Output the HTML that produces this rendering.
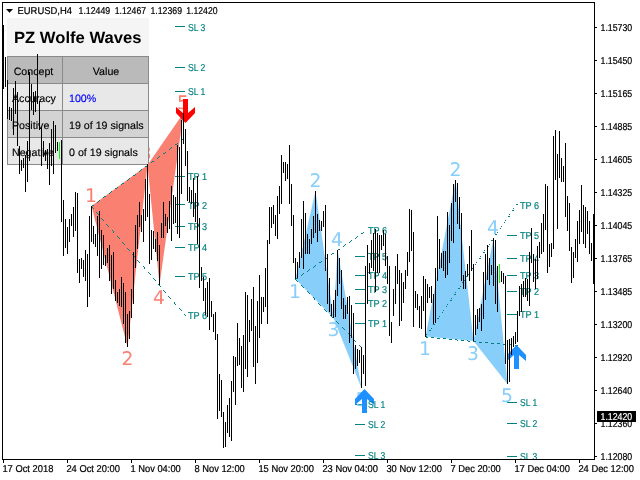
<!DOCTYPE html>
<html><head><meta charset="utf-8"><title>EURUSD,H4 - PZ Wolfe Waves</title>
<style>html,body{margin:0;padding:0;background:#fff;}body{width:640px;height:480px;overflow:hidden;}svg{display:block;will-change:transform;}text{font-family:'Liberation Sans', Arial, sans-serif;text-rendering:geometricPrecision;}.s{font-size:10px;fill:#000;stroke:#000;stroke-width:.22px;}.t{font-size:10px;fill:#008080;stroke:#008080;stroke-width:.18px;}.tb{font-size:10.67px;fill:#000;stroke:#000;stroke-width:.15px;}.wr{font-family:"DejaVu Sans",sans-serif;font-size:18.8px;fill:#fa8072;text-anchor:middle;}.wb{font-family:"DejaVu Sans",sans-serif;font-size:18.8px;fill:#87cefa;text-anchor:middle;}</style></head><body>
<svg width="640" height="480" viewBox="0 0 640 480">
<defs><clipPath id="c"><rect x="3" y="3" width="591" height="456"/></clipPath></defs>
<rect x="0" y="0" width="640" height="480" fill="#fff"/>
<g clip-path="url(#c)">
<text class="wr" x="145.8" y="160">3</text>
<g shape-rendering="crispEdges">
<rect x="7" y="18" width="142" height="147" fill="#f5f5f5"/>
<rect x="7" y="56" width="56" height="28" fill="#8a8a8a"/>
<rect x="8" y="57" width="54" height="26" fill="#bababa"/>
<rect x="62" y="56" width="87" height="28" fill="#8a8a8a"/>
<rect x="63" y="57" width="85" height="26" fill="#bababa"/>
<rect x="7" y="83" width="56" height="28" fill="#8a8a8a"/>
<rect x="8" y="84" width="54" height="26" fill="#e8e8e8"/>
<rect x="62" y="83" width="87" height="28" fill="#8a8a8a"/>
<rect x="63" y="84" width="85" height="26" fill="#e8e8e8"/>
<rect x="7" y="110" width="56" height="28" fill="#8a8a8a"/>
<rect x="8" y="111" width="54" height="26" fill="#d3d3d3"/>
<rect x="62" y="110" width="87" height="28" fill="#8a8a8a"/>
<rect x="63" y="111" width="85" height="26" fill="#d3d3d3"/>
<rect x="7" y="137" width="56" height="28" fill="#8a8a8a"/>
<rect x="8" y="138" width="54" height="26" fill="#e8e8e8"/>
<rect x="62" y="137" width="87" height="28" fill="#8a8a8a"/>
<rect x="63" y="138" width="85" height="26" fill="#e8e8e8"/>
</g>
<text x="14" y="42.5" textLength="127.5" lengthAdjust="spacingAndGlyphs" style="font-size:16.2px;font-weight:bold;fill:#000">PZ Wolfe Waves</text>
<text class="tb" x="33.5" y="75" text-anchor="middle">Concept</text>
<text class="tb" x="106" y="75" text-anchor="middle">Value</text>
<text class="tb" x="12" y="102.2">Accuracy</text>
<text class="tb" x="69" y="102.2" style="fill:#0000ff;stroke:#0000ff">100%</text>
<text class="tb" x="12" y="129">Positive</text>
<text class="tb" x="69" y="129">19 of 19 signals</text>
<text class="tb" x="12" y="156">Negative</text>
<text class="tb" x="69" y="156">0 of 19 signals</text>
<polygon points="91.5,206 127.5,347 147.5,165" fill="#fa8072"/>
<polygon points="147.5,165 159.5,285 183.5,113" fill="#fa8072"/>
<polygon points="295.5,279 315.5,191 333.5,318" fill="#87cefa"/>
<polygon points="333.5,318 337.5,250 361.5,388" fill="#87cefa"/>
<polygon points="425.5,336.5 455.5,180 473.5,341" fill="#87cefa"/>
<polygon points="473.5,341 493.5,238 507.5,384" fill="#87cefa"/>
<path d="M91 206h1v1h-1zM92 205h1v1h-1zM93 205h1v1h-1zM97 202h1v1h-1zM98 201h1v1h-1zM99 200h1v1h-1zM103 197h1v1h-1zM104 196h1v1h-1zM105 196h1v1h-1zM109 193h1v1h-1zM110 192h1v1h-1zM111 191h1v1h-1zM115 188h1v1h-1zM116 188h1v1h-1zM117 187h1v1h-1zM121 184h1v1h-1zM122 183h1v1h-1zM123 183h1v1h-1zM127 180h1v1h-1zM128 179h1v1h-1zM129 178h1v1h-1zM133 175h1v1h-1zM134 175h1v1h-1zM135 174h1v1h-1zM139 171h1v1h-1zM140 170h1v1h-1zM141 169h1v1h-1zM145 166h1v1h-1zM146 166h1v1h-1zM147 165h1v1h-1zM151 162h1v1h-1zM152 161h1v1h-1zM153 161h1v1h-1zM157 158h1v1h-1zM158 157h1v1h-1zM159 156h1v1h-1zM163 153h1v1h-1zM164 153h1v1h-1zM165 152h1v1h-1zM169 149h1v1h-1zM170 148h1v1h-1zM171 147h1v1h-1zM175 144h1v1h-1zM176 144h1v1h-1zM177 143h1v1h-1zM181 140h1v1h-1zM182 139h1v1h-1zM183 139h1v1h-1z" fill="#008080" shape-rendering="crispEdges"/>
<path d="M91 206h1v1h-1zM92 207h1v1h-1zM93 208h1v1h-1zM96 212h1v1h-1zM97 213h1v1h-1zM98 214h1v1h-1zM101 218h1v1h-1zM102 219h1v1h-1zM103 220h1v1h-1zM106 224h1v1h-1zM107 225h1v1h-1zM108 226h1v1h-1zM112 230h1v1h-1zM113 231h1v1h-1zM113 232h1v1h-1zM117 236h1v1h-1zM118 237h1v1h-1zM119 238h1v1h-1zM122 242h1v1h-1zM123 243h1v1h-1zM124 244h1v1h-1zM127 248h1v1h-1zM128 249h1v1h-1zM129 250h1v1h-1zM132 254h1v1h-1zM133 255h1v1h-1zM134 256h1v1h-1zM137 260h1v1h-1zM138 261h1v1h-1zM139 262h1v1h-1zM143 266h1v1h-1zM144 267h1v1h-1zM144 268h1v1h-1zM148 272h1v1h-1zM149 273h1v1h-1zM150 274h1v1h-1zM153 278h1v1h-1zM154 279h1v1h-1zM155 280h1v1h-1zM158 284h1v1h-1zM159 285h1v1h-1zM160 286h1v1h-1zM163 290h1v1h-1zM164 291h1v1h-1zM165 292h1v1h-1zM168 296h1v1h-1zM169 297h1v1h-1zM170 298h1v1h-1zM174 302h1v1h-1zM174 303h1v1h-1zM175 304h1v1h-1zM179 308h1v1h-1zM180 309h1v1h-1zM181 310h1v1h-1zM184 314h1v1h-1zM185 315h1v1h-1z" fill="#008080" shape-rendering="crispEdges"/>
<path d="M295 279h1v1h-1zM296 280h1v1h-1zM297 281h1v1h-1zM301 285h1v1h-1zM302 286h1v1h-1zM303 287h1v1h-1zM307 291h1v1h-1zM308 292h1v1h-1zM309 293h1v1h-1zM313 297h1v1h-1zM314 298h1v1h-1zM314 299h1v1h-1zM318 303h1v1h-1zM319 304h1v1h-1zM320 305h1v1h-1zM324 309h1v1h-1zM325 310h1v1h-1zM326 311h1v1h-1zM330 315h1v1h-1zM331 316h1v1h-1zM332 317h1v1h-1zM336 321h1v1h-1zM337 322h1v1h-1zM338 323h1v1h-1zM342 327h1v1h-1zM343 328h1v1h-1zM344 329h1v1h-1zM348 333h1v1h-1zM349 334h1v1h-1zM350 335h1v1h-1zM353 339h1v1h-1zM354 340h1v1h-1zM355 341h1v1h-1zM359 345h1v1h-1zM360 346h1v1h-1zM361 347h1v1h-1zM365 351h1v1h-1z" fill="#008080" shape-rendering="crispEdges"/>
<path d="M295 279h1v1h-1zM296 278h1v1h-1zM297 278h1v1h-1zM301 275h1v1h-1zM302 274h1v1h-1zM303 273h1v1h-1zM307 271h1v1h-1zM308 270h1v1h-1zM309 269h1v1h-1zM313 267h1v1h-1zM314 266h1v1h-1zM315 265h1v1h-1zM319 262h1v1h-1zM320 262h1v1h-1zM321 261h1v1h-1zM325 258h1v1h-1zM326 258h1v1h-1zM327 257h1v1h-1zM331 254h1v1h-1zM332 253h1v1h-1zM333 253h1v1h-1zM337 250h1v1h-1zM338 249h1v1h-1zM339 249h1v1h-1zM343 246h1v1h-1zM344 245h1v1h-1zM345 244h1v1h-1zM349 242h1v1h-1zM350 241h1v1h-1zM351 240h1v1h-1zM355 238h1v1h-1zM356 237h1v1h-1zM357 236h1v1h-1zM361 233h1v1h-1zM362 233h1v1h-1zM363 232h1v1h-1z" fill="#008080" shape-rendering="crispEdges"/>
<path d="M425 336h1v1h-1zM426 337h1v1h-1zM427 337h1v1h-1zM431 337h1v1h-1zM432 337h1v1h-1zM433 337h1v1h-1zM437 338h1v1h-1zM438 338h1v1h-1zM439 338h1v1h-1zM443 338h1v1h-1zM444 338h1v1h-1zM445 338h1v1h-1zM449 339h1v1h-1zM450 339h1v1h-1zM451 339h1v1h-1zM455 339h1v1h-1zM456 339h1v1h-1zM457 340h1v1h-1zM461 340h1v1h-1zM462 340h1v1h-1zM463 340h1v1h-1zM467 340h1v1h-1zM468 341h1v1h-1zM469 341h1v1h-1zM473 341h1v1h-1zM474 341h1v1h-1zM475 341h1v1h-1zM479 342h1v1h-1zM480 342h1v1h-1zM481 342h1v1h-1zM485 342h1v1h-1zM486 342h1v1h-1zM487 342h1v1h-1zM491 343h1v1h-1zM492 343h1v1h-1zM493 343h1v1h-1zM497 343h1v1h-1zM498 343h1v1h-1zM499 343h1v1h-1zM503 344h1v1h-1zM504 344h1v1h-1zM505 344h1v1h-1zM509 344h1v1h-1zM510 344h1v1h-1zM511 345h1v1h-1zM515 345h1v1h-1zM516 345h1v1h-1zM517 345h1v1h-1z" fill="#008080" shape-rendering="crispEdges"/>
<path d="M425 336h1v1h-1zM426 336h1v1h-1zM426 334h1v1h-1zM429 330h1v1h-1zM430 330h1v1h-1zM431 328h1v1h-1zM433 324h1v1h-1zM434 324h1v1h-1zM435 322h1v1h-1zM437 318h1v1h-1zM438 318h1v1h-1zM439 316h1v1h-1zM442 312h1v1h-1zM442 312h1v1h-1zM443 310h1v1h-1zM446 306h1v1h-1zM446 306h1v1h-1zM447 304h1v1h-1zM450 300h1v1h-1zM451 300h1v1h-1zM451 298h1v1h-1zM454 294h1v1h-1zM455 294h1v1h-1zM455 292h1v1h-1zM458 288h1v1h-1zM459 288h1v1h-1zM460 286h1v1h-1zM462 282h1v1h-1zM463 282h1v1h-1zM464 280h1v1h-1zM466 276h1v1h-1zM467 276h1v1h-1zM468 274h1v1h-1zM471 270h1v1h-1zM471 270h1v1h-1zM472 268h1v1h-1zM475 264h1v1h-1zM475 264h1v1h-1zM476 262h1v1h-1zM479 258h1v1h-1zM480 258h1v1h-1zM480 256h1v1h-1zM483 252h1v1h-1zM484 252h1v1h-1zM484 250h1v1h-1zM487 246h1v1h-1zM488 246h1v1h-1zM489 244h1v1h-1zM491 240h1v1h-1zM492 240h1v1h-1zM493 238h1v1h-1zM495 234h1v1h-1zM496 234h1v1h-1zM497 232h1v1h-1zM500 228h1v1h-1zM500 228h1v1h-1zM501 226h1v1h-1zM504 222h1v1h-1zM504 222h1v1h-1zM505 220h1v1h-1zM508 216h1v1h-1zM509 216h1v1h-1zM509 214h1v1h-1zM512 210h1v1h-1zM513 210h1v1h-1zM513 208h1v1h-1zM516 204h1v1h-1zM517 204h1v1h-1z" fill="#008080" shape-rendering="crispEdges"/>
<rect x="175" y="26" width="10" height="1" fill="#008080" shape-rendering="crispEdges"/>
<rect x="175" y="67" width="10" height="1" fill="#008080" shape-rendering="crispEdges"/>
<rect x="175" y="91" width="10" height="1" fill="#008080" shape-rendering="crispEdges"/>
<rect x="175" y="176" width="10" height="1" fill="#008080" shape-rendering="crispEdges"/>
<rect x="175" y="204" width="10" height="1" fill="#008080" shape-rendering="crispEdges"/>
<rect x="175" y="226" width="10" height="1" fill="#008080" shape-rendering="crispEdges"/>
<rect x="175" y="247" width="10" height="1" fill="#008080" shape-rendering="crispEdges"/>
<rect x="175" y="276" width="10" height="1" fill="#008080" shape-rendering="crispEdges"/>
<rect x="355" y="256" width="10" height="1" fill="#008080" shape-rendering="crispEdges"/>
<rect x="355" y="275" width="10" height="1" fill="#008080" shape-rendering="crispEdges"/>
<rect x="355" y="289" width="10" height="1" fill="#008080" shape-rendering="crispEdges"/>
<rect x="355" y="303" width="10" height="1" fill="#008080" shape-rendering="crispEdges"/>
<rect x="355" y="323" width="10" height="1" fill="#008080" shape-rendering="crispEdges"/>
<rect x="355" y="404" width="10" height="1" fill="#008080" shape-rendering="crispEdges"/>
<rect x="355" y="424" width="10" height="1" fill="#008080" shape-rendering="crispEdges"/>
<rect x="355" y="455" width="10" height="1" fill="#008080" shape-rendering="crispEdges"/>
<rect x="507" y="235" width="10" height="1" fill="#008080" shape-rendering="crispEdges"/>
<rect x="507" y="258" width="10" height="1" fill="#008080" shape-rendering="crispEdges"/>
<rect x="507" y="275" width="10" height="1" fill="#008080" shape-rendering="crispEdges"/>
<rect x="507" y="291" width="10" height="1" fill="#008080" shape-rendering="crispEdges"/>
<rect x="507" y="314" width="10" height="1" fill="#008080" shape-rendering="crispEdges"/>
<rect x="507" y="402" width="10" height="1" fill="#008080" shape-rendering="crispEdges"/>
<rect x="507" y="423" width="10" height="1" fill="#008080" shape-rendering="crispEdges"/>
<rect x="507" y="456" width="10" height="1" fill="#008080" shape-rendering="crispEdges"/>
<text class="wr" x="91" y="201.5">1</text>
<text class="wr" x="127.5" y="365">2</text>
<text class="wr" x="159" y="304">4</text>
<text class="wr" x="183" y="108.5">5</text>
<text class="wb" x="295" y="297.5">1</text>
<text class="wb" x="315.4" y="187">2</text>
<text class="wb" x="333.4" y="335.75">3</text>
<text class="wb" x="337" y="245.5">4</text>
<text class="wb" x="361.5" y="406">5</text>
<text class="wb" x="425" y="354.75">1</text>
<text class="wb" x="455.5" y="175.75">2</text>
<text class="wb" x="473" y="360.2">3</text>
<text class="wb" x="493" y="233.5">4</text>
<text class="wb" x="507" y="401.5">5</text>
<polygon points="183,99 188,99 188,113 195,107 195,113 185.5,123 176,113 176,107 183,113" fill="#ff0000"/>
<polygon points="364.5,389 374,399 374,405 367,399 367,413 362,413 362,399 355,405 355,399" fill="#1e90ff"/>
<polygon points="516.5,345 526,355 526,361 519,355 519,369 514,369 514,355 507,361 507,355" fill="#1e90ff"/>
<text class="t" x="188" y="30.6" textLength="17.3" lengthAdjust="spacingAndGlyphs">SL 3</text>
<text class="t" x="188" y="71.1" textLength="17.3" lengthAdjust="spacingAndGlyphs">SL 2</text>
<text class="t" x="188" y="95.1" textLength="17.3" lengthAdjust="spacingAndGlyphs">SL 1</text>
<text class="t" x="188" y="179.6" textLength="19" lengthAdjust="spacingAndGlyphs">TP 1</text>
<text class="t" x="188" y="208.6" textLength="19" lengthAdjust="spacingAndGlyphs">TP 2</text>
<text class="t" x="188" y="230.1" textLength="19" lengthAdjust="spacingAndGlyphs">TP 3</text>
<text class="t" x="188" y="251.1" textLength="19" lengthAdjust="spacingAndGlyphs">TP 4</text>
<text class="t" x="188" y="279.6" textLength="19" lengthAdjust="spacingAndGlyphs">TP 5</text>
<text class="t" x="188" y="318.6" textLength="19" lengthAdjust="spacingAndGlyphs">TP 6</text>
<text class="t" x="368" y="234.1" textLength="19" lengthAdjust="spacingAndGlyphs">TP 6</text>
<text class="t" x="368" y="260.1" textLength="19" lengthAdjust="spacingAndGlyphs">TP 5</text>
<text class="t" x="368" y="279.1" textLength="19" lengthAdjust="spacingAndGlyphs">TP 4</text>
<text class="t" x="368" y="293.1" textLength="19" lengthAdjust="spacingAndGlyphs">TP 3</text>
<text class="t" x="368" y="307.35" textLength="19" lengthAdjust="spacingAndGlyphs">TP 2</text>
<text class="t" x="368" y="327.1" textLength="19" lengthAdjust="spacingAndGlyphs">TP 1</text>
<text class="t" x="368" y="408.1" textLength="17.3" lengthAdjust="spacingAndGlyphs">SL 1</text>
<text class="t" x="368" y="428" textLength="17.3" lengthAdjust="spacingAndGlyphs">SL 2</text>
<text class="t" x="368" y="459.2" textLength="17.3" lengthAdjust="spacingAndGlyphs">SL 3</text>
<text class="t" x="520" y="208.6" textLength="19" lengthAdjust="spacingAndGlyphs">TP 6</text>
<text class="t" x="520" y="239.2" textLength="19" lengthAdjust="spacingAndGlyphs">TP 5</text>
<text class="t" x="520" y="262.1" textLength="19" lengthAdjust="spacingAndGlyphs">TP 4</text>
<text class="t" x="520" y="279.2" textLength="19" lengthAdjust="spacingAndGlyphs">TP 3</text>
<text class="t" x="520" y="295.1" textLength="19" lengthAdjust="spacingAndGlyphs">TP 2</text>
<text class="t" x="520" y="317.9" textLength="19" lengthAdjust="spacingAndGlyphs">TP 1</text>
<text class="t" x="520" y="406.1" textLength="17.3" lengthAdjust="spacingAndGlyphs">SL 1</text>
<text class="t" x="520" y="427" textLength="17.3" lengthAdjust="spacingAndGlyphs">SL 2</text>
<text class="t" x="520" y="460.1" textLength="17.3" lengthAdjust="spacingAndGlyphs">SL 3</text>
<g shape-rendering="crispEdges">
<rect x="3" y="25" width="1" height="64" fill="#000"/>
<rect x="5" y="57" width="1" height="30" fill="#000"/>
<rect x="7" y="80" width="1" height="39" fill="#000"/>
<rect x="9" y="107" width="1" height="13" fill="#000"/>
<rect x="11" y="108" width="1" height="13" fill="#000"/>
<rect x="13" y="88" width="1" height="47" fill="#000"/>
<rect x="15" y="81" width="1" height="33" fill="#000"/>
<rect x="17" y="92" width="1" height="54" fill="#000"/>
<rect x="19" y="146" width="1" height="28" fill="#000"/>
<rect x="21" y="160" width="1" height="11" fill="#000"/>
<rect x="23" y="158" width="1" height="10" fill="#000"/>
<rect x="25" y="155" width="1" height="37" fill="#000"/>
<rect x="27" y="141" width="1" height="41" fill="#000"/>
<rect x="29" y="72" width="1" height="89" fill="#000"/>
<rect x="31" y="84" width="1" height="26" fill="#000"/>
<rect x="33" y="92" width="1" height="23" fill="#000"/>
<rect x="35" y="91" width="1" height="21" fill="#000"/>
<rect x="37" y="54" width="1" height="50" fill="#000"/>
<rect x="39" y="101" width="1" height="29" fill="#000"/>
<rect x="41" y="127" width="1" height="39" fill="#000"/>
<rect x="43" y="141" width="1" height="16" fill="#000"/>
<rect x="45" y="150" width="1" height="11" fill="#000"/>
<rect x="47" y="149" width="1" height="20" fill="#000"/>
<rect x="49" y="143" width="1" height="42" fill="#000"/>
<rect x="51" y="129" width="1" height="37" fill="#000"/>
<rect x="53" y="121" width="1" height="53" fill="#000"/>
<rect x="55" y="125" width="1" height="28" fill="#000"/>
<rect x="57" y="142" width="1" height="9" fill="#000"/>
<rect x="59" y="142" width="1" height="17" fill="#00ff00"/>
<rect x="61" y="140" width="1" height="82" fill="#000"/>
<rect x="63" y="200" width="1" height="56" fill="#000"/>
<rect x="65" y="219" width="1" height="29" fill="#000"/>
<rect x="67" y="227" width="1" height="27" fill="#000"/>
<rect x="69" y="219" width="1" height="23" fill="#000"/>
<rect x="71" y="214" width="1" height="12" fill="#000"/>
<rect x="73" y="207" width="1" height="30" fill="#000"/>
<rect x="75" y="192" width="1" height="39" fill="#000"/>
<rect x="77" y="193" width="1" height="80" fill="#000"/>
<rect x="79" y="259" width="1" height="24" fill="#000"/>
<rect x="81" y="258" width="1" height="11" fill="#000"/>
<rect x="83" y="260" width="1" height="17" fill="#000"/>
<rect x="85" y="250" width="1" height="31" fill="#000"/>
<rect x="87" y="254" width="1" height="53" fill="#000"/>
<rect x="89" y="216" width="1" height="81" fill="#000"/>
<rect x="91" y="206" width="1" height="36" fill="#000"/>
<rect x="93" y="226" width="1" height="18" fill="#000"/>
<rect x="95" y="234" width="1" height="13" fill="#000"/>
<rect x="97" y="216" width="1" height="40" fill="#000"/>
<rect x="99" y="211" width="1" height="67" fill="#000"/>
<rect x="101" y="230" width="1" height="39" fill="#000"/>
<rect x="103" y="235" width="1" height="30" fill="#000"/>
<rect x="105" y="255" width="1" height="11" fill="#000"/>
<rect x="107" y="248" width="1" height="15" fill="#000"/>
<rect x="109" y="245" width="1" height="36" fill="#000"/>
<rect x="111" y="255" width="1" height="39" fill="#000"/>
<rect x="113" y="252" width="1" height="37" fill="#000"/>
<rect x="115" y="280" width="1" height="21" fill="#000"/>
<rect x="117" y="292" width="1" height="11" fill="#000"/>
<rect x="119" y="289" width="1" height="17" fill="#000"/>
<rect x="121" y="277" width="1" height="30" fill="#000"/>
<rect x="123" y="283" width="1" height="41" fill="#000"/>
<rect x="125" y="292" width="1" height="51" fill="#000"/>
<rect x="127" y="314" width="1" height="33" fill="#000"/>
<rect x="129" y="311" width="1" height="28" fill="#000"/>
<rect x="131" y="289" width="1" height="29" fill="#000"/>
<rect x="133" y="252" width="1" height="52" fill="#000"/>
<rect x="135" y="225" width="1" height="43" fill="#000"/>
<rect x="137" y="215" width="1" height="34" fill="#000"/>
<rect x="139" y="202" width="1" height="25" fill="#000"/>
<rect x="141" y="215" width="1" height="17" fill="#000"/>
<rect x="143" y="209" width="1" height="33" fill="#000"/>
<rect x="145" y="179" width="1" height="42" fill="#000"/>
<rect x="147" y="164" width="1" height="53" fill="#000"/>
<rect x="149" y="194" width="1" height="70" fill="#000"/>
<rect x="151" y="230" width="1" height="30" fill="#000"/>
<rect x="153" y="231" width="1" height="18" fill="#000"/>
<rect x="155" y="239" width="1" height="13" fill="#000"/>
<rect x="157" y="232" width="1" height="29" fill="#000"/>
<rect x="159" y="245" width="1" height="40" fill="#000"/>
<rect x="161" y="223" width="1" height="15" fill="#000"/>
<rect x="163" y="202" width="1" height="36" fill="#000"/>
<rect x="165" y="214" width="1" height="12" fill="#000"/>
<rect x="167" y="217" width="1" height="16" fill="#000"/>
<rect x="169" y="201" width="1" height="28" fill="#000"/>
<rect x="171" y="186" width="1" height="55" fill="#000"/>
<rect x="173" y="195" width="1" height="29" fill="#000"/>
<rect x="175" y="197" width="1" height="26" fill="#000"/>
<rect x="177" y="145" width="1" height="89" fill="#000"/>
<rect x="179" y="147" width="1" height="91" fill="#000"/>
<rect x="181" y="120" width="1" height="74" fill="#000"/>
<rect x="183" y="113" width="1" height="31" fill="#000"/>
<rect x="185" y="129" width="1" height="37" fill="#000"/>
<rect x="187" y="151" width="1" height="50" fill="#000"/>
<rect x="189" y="187" width="1" height="15" fill="#000"/>
<rect x="191" y="190" width="1" height="14" fill="#000"/>
<rect x="193" y="178" width="1" height="39" fill="#000"/>
<rect x="195" y="193" width="1" height="29" fill="#000"/>
<rect x="197" y="176" width="1" height="68" fill="#000"/>
<rect x="199" y="218" width="1" height="70" fill="#000"/>
<rect x="201" y="267" width="1" height="14" fill="#000"/>
<rect x="203" y="277" width="1" height="24" fill="#000"/>
<rect x="205" y="288" width="1" height="27" fill="#000"/>
<rect x="207" y="282" width="1" height="35" fill="#000"/>
<rect x="209" y="278" width="1" height="52" fill="#000"/>
<rect x="211" y="301" width="1" height="16" fill="#000"/>
<rect x="213" y="314" width="1" height="18" fill="#000"/>
<rect x="215" y="312" width="1" height="28" fill="#000"/>
<rect x="217" y="334" width="1" height="85" fill="#000"/>
<rect x="219" y="374" width="1" height="37" fill="#000"/>
<rect x="221" y="380" width="1" height="37" fill="#000"/>
<rect x="223" y="412" width="1" height="36" fill="#000"/>
<rect x="225" y="422" width="1" height="25" fill="#000"/>
<rect x="227" y="405" width="1" height="28" fill="#000"/>
<rect x="229" y="398" width="1" height="39" fill="#000"/>
<rect x="231" y="381" width="1" height="60" fill="#000"/>
<rect x="233" y="356" width="1" height="36" fill="#000"/>
<rect x="235" y="357" width="1" height="48" fill="#000"/>
<rect x="237" y="323" width="1" height="43" fill="#000"/>
<rect x="239" y="338" width="1" height="27" fill="#000"/>
<rect x="241" y="346" width="1" height="42" fill="#000"/>
<rect x="243" y="335" width="1" height="57" fill="#000"/>
<rect x="245" y="292" width="1" height="77" fill="#000"/>
<rect x="247" y="295" width="1" height="82" fill="#000"/>
<rect x="249" y="320" width="1" height="22" fill="#000"/>
<rect x="251" y="299" width="1" height="32" fill="#000"/>
<rect x="253" y="287" width="1" height="80" fill="#000"/>
<rect x="255" y="326" width="1" height="58" fill="#000"/>
<rect x="257" y="301" width="1" height="62" fill="#000"/>
<rect x="259" y="275" width="1" height="63" fill="#000"/>
<rect x="261" y="297" width="1" height="27" fill="#000"/>
<rect x="263" y="297" width="1" height="15" fill="#000"/>
<rect x="265" y="268" width="1" height="39" fill="#000"/>
<rect x="267" y="240" width="1" height="84" fill="#000"/>
<rect x="269" y="207" width="1" height="37" fill="#000"/>
<rect x="271" y="207" width="1" height="21" fill="#000"/>
<rect x="273" y="205" width="1" height="19" fill="#000"/>
<rect x="275" y="215" width="1" height="21" fill="#000"/>
<rect x="277" y="196" width="1" height="43" fill="#000"/>
<rect x="279" y="186" width="1" height="28" fill="#000"/>
<rect x="281" y="155" width="1" height="49" fill="#000"/>
<rect x="283" y="162" width="1" height="11" fill="#000"/>
<rect x="285" y="162" width="1" height="19" fill="#000"/>
<rect x="287" y="164" width="1" height="15" fill="#000"/>
<rect x="289" y="145" width="1" height="59" fill="#000"/>
<rect x="291" y="184" width="1" height="42" fill="#000"/>
<rect x="293" y="215" width="1" height="48" fill="#000"/>
<rect x="295" y="258" width="1" height="21" fill="#000"/>
<rect x="297" y="262" width="1" height="16" fill="#000"/>
<rect x="299" y="252" width="1" height="16" fill="#000"/>
<rect x="301" y="219" width="1" height="39" fill="#000"/>
<rect x="303" y="201" width="1" height="68" fill="#000"/>
<rect x="305" y="213" width="1" height="41" fill="#000"/>
<rect x="307" y="234" width="1" height="20" fill="#000"/>
<rect x="309" y="239" width="1" height="15" fill="#000"/>
<rect x="311" y="229" width="1" height="15" fill="#000"/>
<rect x="313" y="216" width="1" height="22" fill="#000"/>
<rect x="315" y="191" width="1" height="42" fill="#000"/>
<rect x="317" y="214" width="1" height="28" fill="#000"/>
<rect x="319" y="220" width="1" height="11" fill="#000"/>
<rect x="321" y="221" width="1" height="10" fill="#000"/>
<rect x="323" y="211" width="1" height="16" fill="#000"/>
<rect x="325" y="205" width="1" height="66" fill="#000"/>
<rect x="327" y="254" width="1" height="50" fill="#000"/>
<rect x="329" y="278" width="1" height="34" fill="#000"/>
<rect x="331" y="304" width="1" height="12" fill="#000"/>
<rect x="333" y="300" width="1" height="18" fill="#000"/>
<rect x="335" y="290" width="1" height="27" fill="#000"/>
<rect x="337" y="250" width="1" height="46" fill="#000"/>
<rect x="339" y="258" width="1" height="26" fill="#000"/>
<rect x="341" y="270" width="1" height="39" fill="#000"/>
<rect x="343" y="298" width="1" height="21" fill="#000"/>
<rect x="345" y="305" width="1" height="14" fill="#000"/>
<rect x="347" y="297" width="1" height="17" fill="#000"/>
<rect x="349" y="296" width="1" height="47" fill="#000"/>
<rect x="351" y="305" width="1" height="33" fill="#000"/>
<rect x="353" y="313" width="1" height="61" fill="#000"/>
<rect x="355" y="345" width="1" height="24" fill="#000"/>
<rect x="357" y="349" width="1" height="17" fill="#000"/>
<rect x="359" y="350" width="1" height="13" fill="#000"/>
<rect x="361" y="347" width="1" height="41" fill="#000"/>
<rect x="363" y="355" width="1" height="19" fill="#000"/>
<rect x="365" y="266" width="1" height="120" fill="#000"/>
<rect x="367" y="245" width="1" height="59" fill="#000"/>
<rect x="369" y="263" width="1" height="11" fill="#000"/>
<rect x="371" y="240" width="1" height="28" fill="#000"/>
<rect x="373" y="233" width="1" height="38" fill="#000"/>
<rect x="375" y="229" width="1" height="63" fill="#000"/>
<rect x="377" y="233" width="1" height="40" fill="#000"/>
<rect x="379" y="235" width="1" height="38" fill="#000"/>
<rect x="381" y="235" width="1" height="15" fill="#000"/>
<rect x="383" y="230" width="1" height="16" fill="#000"/>
<rect x="385" y="234" width="1" height="32" fill="#000"/>
<rect x="387" y="256" width="1" height="28" fill="#000"/>
<rect x="389" y="266" width="1" height="70" fill="#000"/>
<rect x="391" y="322" width="1" height="21" fill="#000"/>
<rect x="393" y="289" width="1" height="27" fill="#000"/>
<rect x="395" y="266" width="1" height="38" fill="#000"/>
<rect x="397" y="254" width="1" height="30" fill="#000"/>
<rect x="399" y="270" width="1" height="56" fill="#000"/>
<rect x="401" y="273" width="1" height="48" fill="#000"/>
<rect x="403" y="282" width="1" height="21" fill="#000"/>
<rect x="405" y="270" width="1" height="19" fill="#000"/>
<rect x="407" y="252" width="1" height="24" fill="#000"/>
<rect x="409" y="209" width="1" height="53" fill="#000"/>
<rect x="411" y="210" width="1" height="41" fill="#000"/>
<rect x="413" y="232" width="1" height="95" fill="#000"/>
<rect x="415" y="291" width="1" height="17" fill="#000"/>
<rect x="417" y="294" width="1" height="16" fill="#000"/>
<rect x="419" y="306" width="1" height="22" fill="#000"/>
<rect x="421" y="296" width="1" height="33" fill="#000"/>
<rect x="423" y="276" width="1" height="35" fill="#000"/>
<rect x="425" y="279" width="1" height="58" fill="#000"/>
<rect x="427" y="284" width="1" height="19" fill="#000"/>
<rect x="429" y="287" width="1" height="11" fill="#000"/>
<rect x="431" y="286" width="1" height="17" fill="#000"/>
<rect x="433" y="294" width="1" height="30" fill="#000"/>
<rect x="435" y="268" width="1" height="55" fill="#000"/>
<rect x="437" y="216" width="1" height="65" fill="#000"/>
<rect x="439" y="239" width="1" height="30" fill="#000"/>
<rect x="441" y="253" width="1" height="15" fill="#000"/>
<rect x="443" y="251" width="1" height="20" fill="#000"/>
<rect x="445" y="251" width="1" height="27" fill="#000"/>
<rect x="447" y="212" width="1" height="63" fill="#000"/>
<rect x="449" y="225" width="1" height="38" fill="#000"/>
<rect x="451" y="203" width="1" height="38" fill="#000"/>
<rect x="453" y="184" width="1" height="59" fill="#000"/>
<rect x="455" y="180" width="1" height="22" fill="#000"/>
<rect x="457" y="183" width="1" height="41" fill="#000"/>
<rect x="459" y="197" width="1" height="32" fill="#000"/>
<rect x="461" y="213" width="1" height="68" fill="#000"/>
<rect x="463" y="275" width="1" height="14" fill="#000"/>
<rect x="465" y="271" width="1" height="18" fill="#000"/>
<rect x="467" y="264" width="1" height="12" fill="#000"/>
<rect x="469" y="246" width="1" height="35" fill="#000"/>
<rect x="471" y="230" width="1" height="41" fill="#000"/>
<rect x="473" y="264" width="1" height="77" fill="#000"/>
<rect x="475" y="315" width="1" height="20" fill="#000"/>
<rect x="477" y="309" width="1" height="20" fill="#000"/>
<rect x="479" y="308" width="1" height="14" fill="#000"/>
<rect x="481" y="304" width="1" height="27" fill="#000"/>
<rect x="483" y="272" width="1" height="47" fill="#000"/>
<rect x="485" y="254" width="1" height="46" fill="#000"/>
<rect x="487" y="245" width="1" height="35" fill="#000"/>
<rect x="489" y="258" width="1" height="27" fill="#000"/>
<rect x="491" y="265" width="1" height="10" fill="#000"/>
<rect x="493" y="238" width="1" height="48" fill="#000"/>
<rect x="495" y="240" width="1" height="64" fill="#000"/>
<rect x="497" y="266" width="1" height="46" fill="#000"/>
<rect x="499" y="264" width="1" height="19" fill="#00ff00"/>
<rect x="501" y="271" width="1" height="11" fill="#000"/>
<rect x="503" y="273" width="1" height="11" fill="#000"/>
<rect x="505" y="276" width="1" height="88" fill="#000"/>
<rect x="507" y="340" width="1" height="44" fill="#000"/>
<rect x="509" y="339" width="1" height="43" fill="#000"/>
<rect x="511" y="338" width="1" height="17" fill="#000"/>
<rect x="513" y="336" width="1" height="11" fill="#000"/>
<rect x="515" y="332" width="1" height="12" fill="#000"/>
<rect x="517" y="311" width="1" height="31" fill="#000"/>
<rect x="519" y="286" width="1" height="30" fill="#000"/>
<rect x="521" y="284" width="1" height="28" fill="#000"/>
<rect x="523" y="281" width="1" height="16" fill="#000"/>
<rect x="525" y="278" width="1" height="19" fill="#000"/>
<rect x="527" y="279" width="1" height="22" fill="#000"/>
<rect x="529" y="252" width="1" height="54" fill="#000"/>
<rect x="531" y="228" width="1" height="35" fill="#000"/>
<rect x="533" y="254" width="1" height="28" fill="#000"/>
<rect x="535" y="259" width="1" height="30" fill="#000"/>
<rect x="537" y="246" width="1" height="33" fill="#000"/>
<rect x="539" y="242" width="1" height="16" fill="#000"/>
<rect x="541" y="223" width="1" height="31" fill="#000"/>
<rect x="543" y="214" width="1" height="38" fill="#000"/>
<rect x="545" y="184" width="1" height="46" fill="#000"/>
<rect x="547" y="186" width="1" height="87" fill="#000"/>
<rect x="549" y="244" width="1" height="23" fill="#000"/>
<rect x="551" y="243" width="1" height="14" fill="#000"/>
<rect x="553" y="136" width="1" height="113" fill="#000"/>
<rect x="555" y="130" width="1" height="50" fill="#000"/>
<rect x="557" y="154" width="1" height="75" fill="#000"/>
<rect x="559" y="131" width="1" height="47" fill="#000"/>
<rect x="561" y="158" width="1" height="24" fill="#000"/>
<rect x="563" y="166" width="1" height="16" fill="#000"/>
<rect x="565" y="143" width="1" height="74" fill="#000"/>
<rect x="567" y="196" width="1" height="35" fill="#000"/>
<rect x="569" y="203" width="1" height="48" fill="#000"/>
<rect x="571" y="247" width="1" height="36" fill="#000"/>
<rect x="573" y="252" width="1" height="26" fill="#000"/>
<rect x="575" y="239" width="1" height="19" fill="#000"/>
<rect x="577" y="221" width="1" height="41" fill="#000"/>
<rect x="579" y="210" width="1" height="34" fill="#000"/>
<rect x="581" y="185" width="1" height="47" fill="#000"/>
<rect x="583" y="205" width="1" height="39" fill="#000"/>
<rect x="585" y="207" width="1" height="41" fill="#000"/>
<rect x="587" y="211" width="1" height="23" fill="#000"/>
<rect x="589" y="221" width="1" height="33" fill="#000"/>
<rect x="591" y="243" width="1" height="18" fill="#000"/>
<rect x="593" y="214" width="1" height="70" fill="#000"/>
</g>
</g>
<g shape-rendering="crispEdges" fill="#000">
<rect x="2" y="2" width="593" height="1"/>
<rect x="2" y="2" width="1" height="458"/>
<rect x="594" y="2" width="1" height="458"/>
<rect x="2" y="459" width="593" height="1"/>
<rect x="595" y="27" width="2" height="1"/>
<rect x="595" y="60" width="2" height="1"/>
<rect x="595" y="93" width="2" height="1"/>
<rect x="595" y="126" width="2" height="1"/>
<rect x="595" y="159" width="2" height="1"/>
<rect x="595" y="192" width="2" height="1"/>
<rect x="595" y="225" width="2" height="1"/>
<rect x="595" y="258" width="2" height="1"/>
<rect x="595" y="291" width="2" height="1"/>
<rect x="595" y="324" width="2" height="1"/>
<rect x="595" y="357" width="2" height="1"/>
<rect x="595" y="390" width="2" height="1"/>
<rect x="595" y="423" width="2" height="1"/>
<rect x="595" y="456" width="2" height="1"/>
<rect x="3" y="460" width="1" height="3"/>
<rect x="67" y="460" width="1" height="3"/>
<rect x="131" y="460" width="1" height="3"/>
<rect x="195" y="460" width="1" height="3"/>
<rect x="259" y="460" width="1" height="3"/>
<rect x="323" y="460" width="1" height="3"/>
<rect x="387" y="460" width="1" height="3"/>
<rect x="451" y="460" width="1" height="3"/>
<rect x="515" y="460" width="1" height="3"/>
<rect x="579" y="460" width="1" height="3"/>
</g>
<text class="s" x="600.5" y="31" textLength="31.7" lengthAdjust="spacingAndGlyphs">1.15730</text>
<text class="s" x="600.5" y="64" textLength="31.7" lengthAdjust="spacingAndGlyphs">1.15450</text>
<text class="s" x="600.5" y="97" textLength="31.7" lengthAdjust="spacingAndGlyphs">1.15165</text>
<text class="s" x="600.5" y="130" textLength="31.7" lengthAdjust="spacingAndGlyphs">1.14885</text>
<text class="s" x="600.5" y="163" textLength="31.7" lengthAdjust="spacingAndGlyphs">1.14605</text>
<text class="s" x="600.5" y="196" textLength="31.7" lengthAdjust="spacingAndGlyphs">1.14325</text>
<text class="s" x="600.5" y="229" textLength="31.7" lengthAdjust="spacingAndGlyphs">1.14045</text>
<text class="s" x="600.5" y="262" textLength="31.7" lengthAdjust="spacingAndGlyphs">1.13765</text>
<text class="s" x="600.5" y="295" textLength="31.7" lengthAdjust="spacingAndGlyphs">1.13485</text>
<text class="s" x="600.5" y="328" textLength="31.7" lengthAdjust="spacingAndGlyphs">1.13200</text>
<text class="s" x="600.5" y="361" textLength="31.7" lengthAdjust="spacingAndGlyphs">1.12920</text>
<text class="s" x="600.5" y="394" textLength="31.7" lengthAdjust="spacingAndGlyphs">1.12640</text>
<text class="s" x="600.5" y="427" textLength="31.7" lengthAdjust="spacingAndGlyphs">1.12360</text>
<text class="s" x="600.5" y="460" textLength="31.7" lengthAdjust="spacingAndGlyphs">1.12080</text>
<text class="s" x="2.4" y="472" textLength="50.94" lengthAdjust="spacingAndGlyphs">17 Oct 2018</text>
<text class="s" x="66.4" y="472" textLength="53.54" lengthAdjust="spacingAndGlyphs">24 Oct 20:00</text>
<text class="s" x="130.4" y="472" textLength="50.42" lengthAdjust="spacingAndGlyphs">1 Nov 04:00</text>
<text class="s" x="194.4" y="472" textLength="50.42" lengthAdjust="spacingAndGlyphs">8 Nov 12:00</text>
<text class="s" x="258.4" y="472" textLength="55.62" lengthAdjust="spacingAndGlyphs">15 Nov 20:00</text>
<text class="s" x="322.4" y="472" textLength="55.62" lengthAdjust="spacingAndGlyphs">23 Nov 04:00</text>
<text class="s" x="386.4" y="472" textLength="55.62" lengthAdjust="spacingAndGlyphs">30 Nov 12:00</text>
<text class="s" x="450.4" y="472" textLength="50.42" lengthAdjust="spacingAndGlyphs">7 Dec 20:00</text>
<text class="s" x="514.4" y="472" textLength="55.62" lengthAdjust="spacingAndGlyphs">17 Dec 04:00</text>
<text class="s" x="578.4" y="472" textLength="55.62" lengthAdjust="spacingAndGlyphs">24 Dec 12:00</text>
<rect x="597" y="411" width="39" height="11" fill="#000" shape-rendering="crispEdges"/>
<text class="s" x="600.5" y="420" textLength="31.7" lengthAdjust="spacingAndGlyphs" style="fill:#fff;stroke:#fff">1.12420</text>
<polygon points="6,9 13,9 9.5,12.8" fill="#000"/>
<text class="s" x="17.5" y="13.5" textLength="54.5" lengthAdjust="spacingAndGlyphs">EURUSD,H4</text>
<text class="s" x="78.5" y="13.5" textLength="31.75" lengthAdjust="spacingAndGlyphs">1.12449</text>
<text class="s" x="114.75" y="13.5" textLength="31.25" lengthAdjust="spacingAndGlyphs">1.12467</text>
<text class="s" x="150.5" y="13.5" textLength="31.5" lengthAdjust="spacingAndGlyphs">1.12369</text>
<text class="s" x="186.25" y="13.5" textLength="31.25" lengthAdjust="spacingAndGlyphs">1.12420</text>
</svg></body></html>
